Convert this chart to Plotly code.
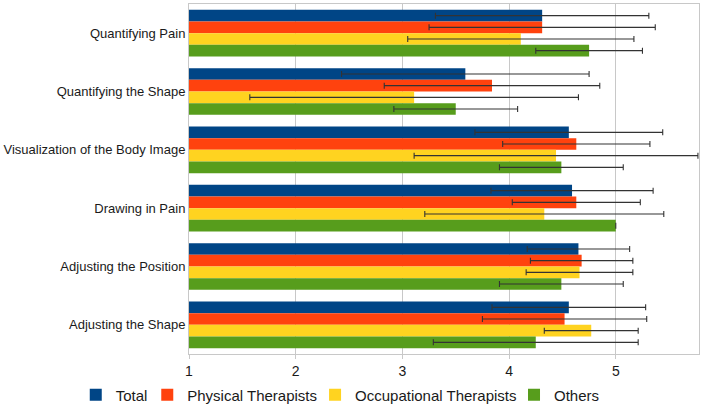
import plotly.graph_objects as go

categories = [
    "Quantifying Pain",
    "Quantifying the Shape",
    "Visualization of the Body Image",
    "Drawing in Pain",
    "Adjusting the Position",
    "Adjusting the Shape",
]

series_names = ["Total", "Physical Therapists", "Occupational Therapists", "Others"]

total_mean = [4.31, 3.59, 4.56, 4.59, 4.65, 4.56]
total_sd = [1.00, 1.16, 0.88, 0.76, 0.48, 0.72]

pt_mean = [4.31, 3.84, 4.63, 4.63, 4.68, 4.52]
pt_sd = [1.06, 1.01, 0.69, 0.60, 0.48, 0.77]

ot_mean = [4.11, 3.11, 4.44, 4.33, 4.66, 4.77]
ot_sd = [1.06, 1.54, 1.33, 1.12, 0.50, 0.44]

others_mean = [4.75, 3.50, 4.49, 5.00, 4.49, 4.25]
others_sd = [0.50, 0.58, 0.58, 0.00, 0.58, 0.96]

tick_vals = [1, 2, 3, 4, 5]

colors = ["#004586", "#ff420e", "#ffd320", "#579d1c"]

means = [total_mean, pt_mean, ot_mean, others_mean]
sds = [total_sd, pt_sd, ot_sd, others_sd]

# one single-entry legend per series so the entries can sit where the
# reference puts them (plotly wraps a single horizontal legend here)
legend_ids = ["legend", "legend2", "legend3", "legend4"]
legend_x = [0.107, 0.208, 0.445, 0.726]

fig = go.Figure()
for name, m, s, c, lg in zip(series_names, means, sds, colors, legend_ids):
    fig.add_trace(
        go.Bar(
            name=name,
            y=categories,
            x=[v - 1 for v in m],
            base=1,
            orientation="h",
            marker=dict(color=c, line=dict(width=0)),
            error_x=dict(type="data", array=s, color="#333333", thickness=1.1, width=3),
            legend=lg,
            showlegend=True,
        )
    )

fig.update_layout(
    showlegend=True,
    barmode="group",
    bargap=0.2,
    bargroupgap=0,
    width=708,
    height=408,
    margin=dict(l=189, r=9, t=4, b=54),
    paper_bgcolor="white",
    plot_bgcolor="white",
    font=dict(family="Liberation Sans, Arial, sans-serif", size=13, color="#1a1a1a"),
    xaxis=dict(
        range=[1, 5.78],
        tickvals=tick_vals,
        showgrid=True,
        gridcolor="#c8c8c8",
        gridwidth=1,
        showline=True,
        linecolor="#c8c8c8",
        mirror=True,
        ticks="outside",
        ticklen=4,
        tickcolor="#c8c8c8",
        tickfont=dict(size=14),
        zeroline=False,
        automargin=False,
    ),
    yaxis=dict(
        autorange="reversed",
        showline=True,
        linecolor="#c8c8c8",
        mirror=True,
        ticks="",
        tickfont=dict(size=13),
        automargin=False,
    ),
)

for lg, lx in zip(legend_ids, legend_x):
    fig.update_layout(
        {
            lg: dict(
                visible=True,
                orientation="h",
                xref="container",
                yref="container",
                x=lx,
                xanchor="left",
                y=0.032,
                yanchor="middle",
                font=dict(size=15),
                itemwidth=30,
                bgcolor="rgba(0,0,0,0)",
            )
        }
    )

# page body has a default 8px margin; drop it so the figure sits at 0,0
fig.write_html(
    "out.html",
    config={"displayModeBar": False},
    post_script="document.body.style.margin='0';",
)
